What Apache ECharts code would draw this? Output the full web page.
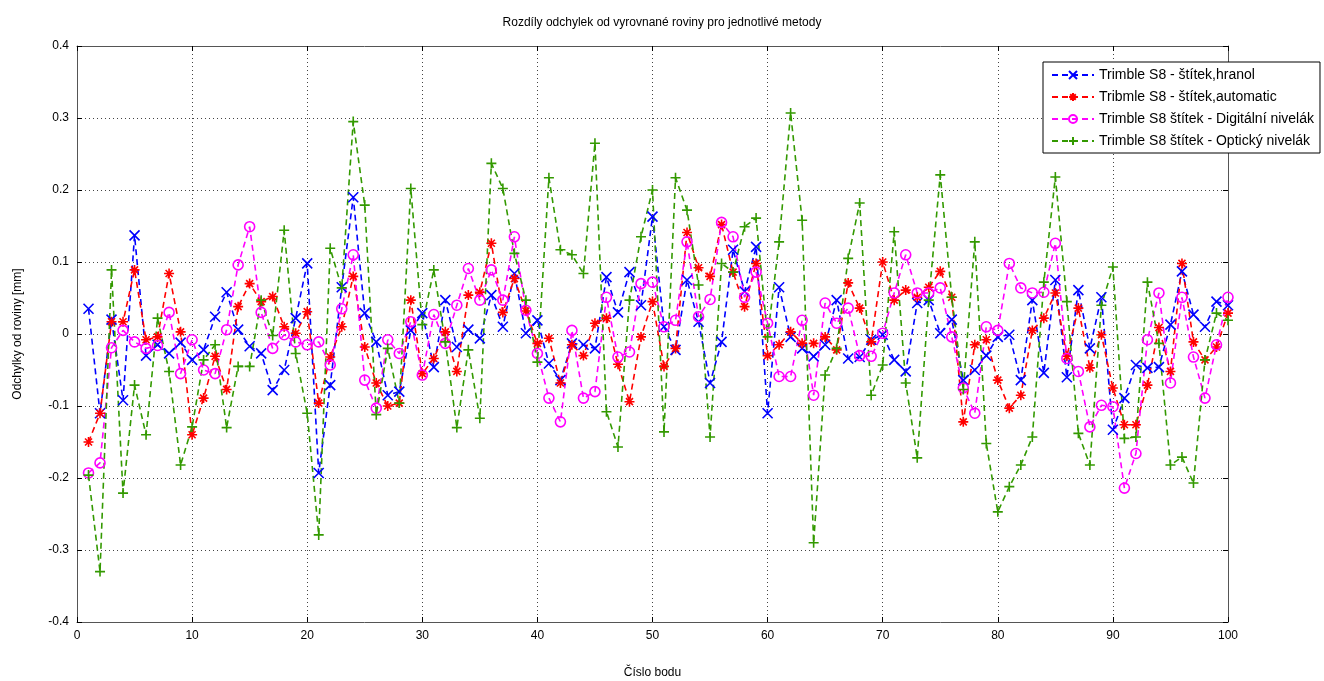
<!DOCTYPE html>
<html lang="cs">
<head>
    <meta charset="UTF-8">
    <title>Rozdíly odchylek</title>
    <style>
      * { padding: 0; margin: 0; }
      body { background: #fff; }
    </style>
</head>
<body>
    <div id="main" style="width: 1324px;height:681px;"></div>
    <script src="https://cdn.jsdelivr.net/npm/echarts@6/dist/echarts.min.js"></script>
    <script>
    // cislo bodu 1..100
    var points = [];
    for (var i = 1; i <= 100; i++) points.push(i);

    var hranol = [0.035,-0.11,0.02,-0.092,0.137,-0.03,-0.015,-0.027,-0.012,-0.036,
        -0.022,0.024,0.058,0.006,-0.017,-0.027,-0.078,-0.05,0.022,0.098,
        -0.193,-0.071,0.065,0.19,0.029,-0.011,-0.085,-0.08,0.005,0.029,
        -0.046,0.047,-0.018,0.006,-0.006,0.054,0.01,0.084,0.001,0.019,
        -0.041,-0.064,-0.013,-0.015,-0.02,0.079,0.03,0.086,0.04,0.163,
        0.01,-0.022,0.075,0.017,-0.068,-0.011,0.117,0.059,0.121,-0.11,
        0.065,-0.004,-0.02,-0.031,-0.015,0.047,-0.034,-0.032,-0.008,-0.001,
        -0.036,-0.052,0.043,0.047,0.001,0.02,-0.064,-0.05,-0.03,-0.004,
        -0.001,-0.064,0.047,-0.054,0.075,-0.06,0.061,-0.02,0.051,-0.133,
        -0.089,-0.043,-0.047,-0.046,0.013,0.087,0.027,0.01,0.045,0.04];

    var automatic = [-0.15,-0.11,0.017,0.017,0.089,-0.008,-0.004,0.084,0.003,-0.14,
        -0.089,-0.031,-0.077,0.038,0.07,0.045,0.052,0.01,0.001,0.031,
        -0.096,-0.032,0.01,0.08,-0.018,-0.068,-0.1,-0.096,0.047,-0.055,
        -0.034,0.003,-0.052,0.054,0.058,0.126,0.03,0.077,0.032,-0.013,
        -0.006,-0.068,-0.015,-0.03,0.015,0.022,-0.042,-0.094,-0.004,0.045,
        -0.045,-0.02,0.141,0.092,0.08,0.152,0.086,0.038,0.098,-0.03,
        -0.015,0.003,-0.013,-0.013,-0.004,-0.022,0.071,0.036,-0.011,0.1,
        0.047,0.061,0.051,0.065,0.087,0.051,-0.122,-0.015,-0.008,-0.064,
        -0.103,-0.085,0.005,0.022,0.057,-0.031,0.036,-0.047,-0.001,-0.075,
        -0.126,-0.126,-0.071,0.009,-0.052,0.098,-0.011,-0.036,-0.018,0.029];

    var digitalni = [-0.193,-0.179,-0.019,0.005,-0.011,-0.02,-0.016,0.03,-0.055,-0.008,
        -0.05,-0.055,0.006,0.096,0.149,0.03,-0.02,-0.001,-0.011,-0.015,
        -0.011,-0.043,0.035,0.11,-0.064,-0.103,-0.008,-0.027,0.017,-0.057,
        0.027,-0.013,0.04,0.091,0.047,0.089,0.047,0.135,0.033,-0.027,
        -0.089,-0.122,0.005,-0.089,-0.08,0.051,-0.032,-0.025,0.07,0.072,
        0.01,0.019,0.128,0.024,0.048,0.155,0.135,0.051,0.086,0.015,
        -0.059,-0.059,0.019,-0.085,0.043,0.015,0.036,-0.03,-0.031,0.001,
        0.057,0.11,0.057,0.057,0.064,-0.004,-0.075,-0.11,0.01,0.005,
        0.098,0.064,0.057,0.058,0.126,-0.034,-0.052,-0.129,-0.099,-0.101,
        -0.214,-0.166,-0.008,0.057,-0.068,0.051,-0.032,-0.089,-0.015,0.051];

    var opticky = [-0.196,-0.33,0.089,-0.221,-0.071,-0.14,0.022,-0.052,-0.182,-0.129,
        -0.036,-0.015,-0.13,-0.045,-0.045,0.047,-0.002,0.144,-0.027,-0.11,
        -0.279,0.119,0.064,0.295,0.179,-0.112,-0.02,-0.096,0.202,0.013,
        0.089,-0.011,-0.13,-0.022,-0.117,0.237,0.202,0.112,0.047,-0.039,
        0.217,0.117,0.11,0.084,0.265,-0.108,-0.157,0.047,0.135,0.2,
        -0.136,0.217,0.172,0.068,-0.143,0.098,0.086,0.149,0.161,-0.004,
        0.128,0.307,0.158,-0.29,-0.057,-0.02,0.105,0.182,-0.085,-0.043,
        0.142,-0.068,-0.172,0.047,0.221,0.051,-0.077,0.128,-0.152,-0.247,
        -0.212,-0.182,-0.143,0.072,0.218,0.045,-0.138,-0.182,0.04,0.093,
        -0.145,-0.143,0.072,-0.013,-0.182,-0.171,-0.207,-0.036,0.029,0.019];

    var seriesNames = ['Trimble S8 - štítek,hranol', 'Tribmle S8 - štítek,automatic',
        'Trimble S8 štítek - Digitální nivelák', 'Trimble S8 štítek - Optický nivelák'];

    var font = 'Liberation Sans, Arial, sans-serif';

    function pairs(vals) {
        return points.map(function (p, k) { return [p, vals[k]]; });
    }

    function makeSeries(name, vals, color, symbol, fill) {
        return {
            name: name,
            type: 'line',
            data: pairs(vals),
            symbol: symbol,
            symbolSize: 10,
            lineStyle: { color: color, width: 1.6, type: [6, 4] },
            itemStyle: { color: fill, borderColor: color, borderWidth: 1.6 },
            emphasis: { disabled: true },
            animation: false
        };
    }

    var xMark = 'path://M0,0L10,10M10,0L0,10';
    var star = 'path://M5,0L5,10M0,5L10,5M1.5,1.5L8.5,8.5M8.5,1.5L1.5,8.5';
    var plus = 'path://M5,0L5,10M0,5L10,5';

    option = {
        backgroundColor: '#fff',
        title: {
            text: 'Rozdíly odchylek od vyrovnané roviny pro jednotlivé metody',
            left: 'center', top: 12,
            textStyle: { fontFamily: font, fontSize: 12, fontWeight: 'normal', color: '#000' }
        },
        legend: {
            orient: 'vertical',
            left: 1043, top: 62,
            backgroundColor: '#fff',
            borderColor: '#000', borderWidth: 1,
            padding: [6, 6, 5, 8],
            itemWidth: 42, itemHeight: 10, itemGap: 8,
            textStyle: { fontFamily: font, fontSize: 14, color: '#000' },
            data: seriesNames
        },
        grid: { left: 77, right: 96, top: 46, bottom: 59, outerBoundsMode: 'none' },
        xAxis: [{
            type: 'value', min: 0, max: 100, interval: 10,
            name: 'Číslo bodu', nameLocation: 'middle', nameGap: 45,
            nameTextStyle: { fontFamily: font, fontSize: 12, color: '#000' },
            axisLine: { onZero: false, lineStyle: { color: '#555' } },
            axisTick: { inside: true, length: 5, lineStyle: { color: '#000' } },
            axisLabel: { fontFamily: font, fontSize: 12, color: '#000', margin: 8 },
            splitLine: { show: true, lineStyle: { color: '#444', type: [1, 3] } }
        }, {
            type: 'value', min: 0, max: 100, interval: 10, position: 'top',
            axisLine: { onZero: false, lineStyle: { color: '#555' } },
            axisTick: { inside: true, length: 5, lineStyle: { color: '#000' } },
            axisLabel: { show: false }, splitLine: { show: false }
        }],
        yAxis: [{
            type: 'value', min: -0.4, max: 0.4, interval: 0.1,
            name: 'Odchylky od roviny [mm]', nameLocation: 'middle', nameGap: 53,
            nameTextStyle: { fontFamily: font, fontSize: 12, color: '#000' },
            axisLine: { show: true, onZero: false, lineStyle: { color: '#555' } },
            axisTick: { show: true, inside: true, length: 5, lineStyle: { color: '#000' } },
            axisLabel: {
                fontFamily: font, fontSize: 12, color: '#000', margin: 8,
                formatter: function (v) { return Math.abs(v) < 1e-9 ? '0' : v.toFixed(1); }
            },
            splitLine: { show: true, lineStyle: { color: '#444', type: [1, 3] } }
        }, {
            type: 'value', min: -0.4, max: 0.4, interval: 0.1, position: 'right',
            axisLine: { show: true, onZero: false, lineStyle: { color: '#555' } },
            axisTick: { show: true, inside: true, length: 5, lineStyle: { color: '#000' } },
            axisLabel: { show: false }, splitLine: { show: false }
        }],
        series: [
            makeSeries(seriesNames[0], hranol, '#0000ff', xMark, 'none'),
            makeSeries(seriesNames[1], automatic, '#ff0000', star, 'none'),
            makeSeries(seriesNames[2], digitalni, '#ff00ff', 'circle', 'none'),
            makeSeries(seriesNames[3], opticky, '#339900', plus, 'none')
        ]
    };

    var myChart = echarts.init(document.getElementById('main'));
    myChart.setOption(option);
    </script>
</body>
</html>
